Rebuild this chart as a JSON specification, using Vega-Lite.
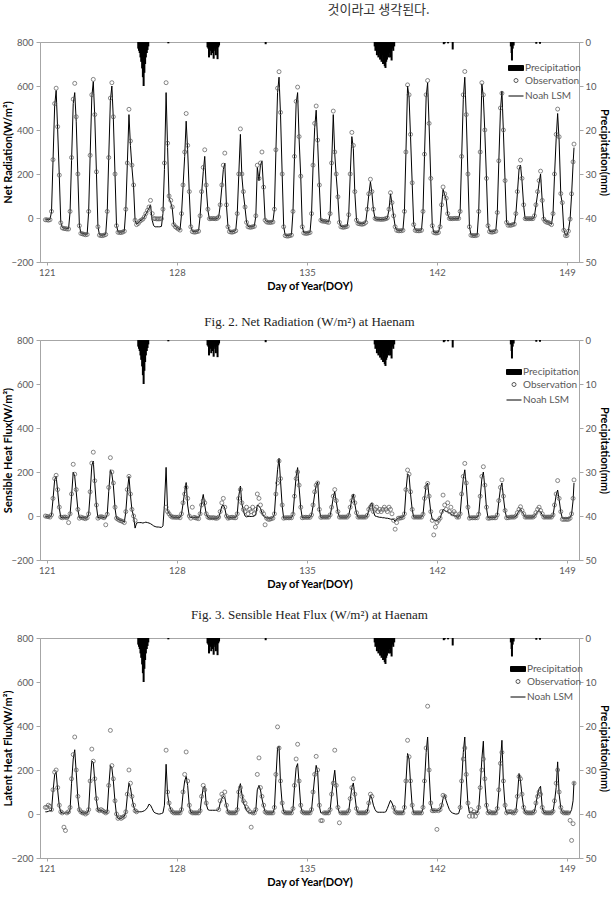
{
"$schema": "https://vega.github.io/schema/vega-lite/v6.json",
"background": "white",
"padding": {"left": 2, "top": 3, "right": 10, "bottom": 0},
"title": {"text": "것이라고 생각된다.", "font": "Noto Sans CJK KR", "fontSize": 13, "fontWeight": "normal", "color": "#333333", "anchor": "start", "dx": 325, "offset": 20},
"config": {
  "font": "Lato",
  "view": {"stroke": "#a6a6a6", "strokeWidth": 1},
  "axis": {"labelFont": "Lato", "labelFontSize": 9.5, "labelColor": "#595959", "titleFont": "Lato", "titleFontSize": 11, "titleFontWeight": "bold", "titleColor": "#000000", "domainColor": "#a6a6a6", "tickColor": "#a6a6a6", "grid": false},
  "legend": {"labelFont": "Lato", "labelFontSize": 10, "labelColor": "#595959"},
  "title": {"font": "Liberation Serif", "fontSize": 13, "fontWeight": "normal", "color": "#222222"}
},
"datasets": {
"rain": [
{"t":125.92,"p":1.5},{"t":125.96,"p":2},{"t":126.0,"p":2.5},{"t":126.04,"p":3.5},{"t":126.08,"p":4.5},{"t":126.13,"p":6},{"t":126.17,"p":8},{"t":126.21,"p":10},{"t":126.25,"p":7},{"t":126.29,"p":5},{"t":126.33,"p":3.5},{"t":126.38,"p":2.5},{"t":126.42,"p":1.8},{"t":126.46,"p":1},
{"t":127.54,"p":0.3},
{"t":129.65,"p":1.2},{"t":129.69,"p":1.5},{"t":129.73,"p":3.5},{"t":129.77,"p":1.5},{"t":129.81,"p":2},{"t":129.85,"p":3},{"t":129.9,"p":1.5},{"t":129.94,"p":2.5},{"t":129.98,"p":3.8},{"t":130.02,"p":1.5},{"t":130.06,"p":2},{"t":130.1,"p":3},{"t":130.15,"p":1.5},{"t":130.19,"p":3.9},{"t":130.23,"p":1.2},{"t":130.27,"p":0.8},
{"t":132.78,"p":0.5},
{"t":138.65,"p":1},{"t":138.69,"p":2},{"t":138.73,"p":1.5},{"t":138.77,"p":3},{"t":138.81,"p":2},{"t":138.85,"p":3.5},{"t":138.9,"p":2.5},{"t":138.94,"p":4},{"t":138.98,"p":3},{"t":139.02,"p":4.5},{"t":139.06,"p":3},{"t":139.1,"p":5},{"t":139.15,"p":4},{"t":139.19,"p":5.5},{"t":139.23,"p":5.9},{"t":139.27,"p":4.5},{"t":139.31,"p":4},{"t":139.35,"p":3},{"t":139.4,"p":3.5},{"t":139.44,"p":2.5},{"t":139.48,"p":3.5},{"t":139.52,"p":2},{"t":139.56,"p":4.2},{"t":139.6,"p":1.5},{"t":139.65,"p":2},{"t":139.7,"p":1},
{"t":142.37,"p":0.5},{"t":142.42,"p":0.3},{"t":142.6,"p":0.3},{"t":142.85,"p":1.7},
{"t":145.98,"p":1},{"t":146.02,"p":2.5},{"t":146.04,"p":4.2},{"t":146.08,"p":1.5},{"t":146.13,"p":0.8},
{"t":147.35,"p":0.4},{"t":147.55,"p":0.4}
],
"flux": [
{"t":120.92,"nr":-8,"nrm":-6,"sh":0,"shm":-2,"le":30,"lem":10},
{"t":121,"nr":-8,"nrm":-6,"sh":-2,"shm":-3,"le":30,"lem":10},
{"t":121.08,"nr":-10,"nrm":-8,"sh":-3,"shm":-4,"le":40,"lem":12},
{"t":121.17,"nr":-8,"nrm":-6,"sh":-5,"shm":-5,"le":35,"lem":15},
{"t":121.25,"nr":30,"nrm":28,"sh":5,"shm":3,"le":20,"lem":15},
{"t":121.33,"nr":265,"nrm":255,"sh":80,"shm":75,"le":110,"lem":100},
{"t":121.42,"nr":520,"nrm":510,"sh":170,"shm":165,"le":190,"lem":180},
{"t":121.5,"nr":590,"nrm":580,"sh":185,"shm":180,"le":200,"lem":190},
{"t":121.58,"nr":415,"nrm":405,"sh":120,"shm":115,"le":120,"lem":110},
{"t":121.67,"nr":195,"nrm":190,"sh":40,"shm":35,"le":40,"lem":35},
{"t":121.75,"nr":-22,"nrm":-20,"sh":-5,"shm":-6,"le":10,"lem":8},
{"t":121.83,"nr":-45,"nrm":-43,"sh":-8,"shm":-8,"le":5,"lem":5},
{"t":121.92,"nr":-48,"nrm":-46,"sh":-5,"shm":-6,"le":-60,"lem":3},
{"t":122,"nr":-48,"nrm":-46,"sh":-5,"shm":-6,"le":-75,"lem":5},
{"t":122.08,"nr":-50,"nrm":-48,"sh":-8,"shm":-8,"le":5,"lem":5},
{"t":122.17,"nr":-50,"nrm":-48,"sh":-30,"shm":-10,"le":10,"lem":5},
{"t":122.25,"nr":30,"nrm":28,"sh":10,"shm":8,"le":30,"lem":20},
{"t":122.33,"nr":275,"nrm":260,"sh":100,"shm":90,"le":160,"lem":140},
{"t":122.42,"nr":540,"nrm":520,"sh":235,"shm":200,"le":270,"lem":250},
{"t":122.5,"nr":612,"nrm":570,"sh":190,"shm":180,"le":350,"lem":292},
{"t":122.58,"nr":460,"nrm":440,"sh":120,"shm":110,"le":200,"lem":190},
{"t":122.67,"nr":200,"nrm":190,"sh":30,"shm":28,"le":80,"lem":70},
{"t":122.75,"nr":-35,"nrm":-33,"sh":-10,"shm":-8,"le":20,"lem":15},
{"t":122.83,"nr":-70,"nrm":-68,"sh":-5,"shm":-6,"le":10,"lem":8},
{"t":122.92,"nr":-72,"nrm":-70,"sh":-8,"shm":-8,"le":5,"lem":5},
{"t":123,"nr":-74,"nrm":-72,"sh":-10,"shm":-8,"le":5,"lem":5},
{"t":123.08,"nr":-76,"nrm":-74,"sh":-12,"shm":-10,"le":0,"lem":3},
{"t":123.17,"nr":-75,"nrm":-73,"sh":-8,"shm":-8,"le":5,"lem":5},
{"t":123.25,"nr":30,"nrm":28,"sh":10,"shm":8,"le":20,"lem":18},
{"t":123.33,"nr":285,"nrm":280,"sh":110,"shm":100,"le":150,"lem":140},
{"t":123.42,"nr":560,"nrm":550,"sh":240,"shm":230,"le":295,"lem":240},
{"t":123.5,"nr":630,"nrm":620,"sh":290,"shm":250,"le":240,"lem":235},
{"t":123.58,"nr":470,"nrm":460,"sh":160,"shm":150,"le":160,"lem":150},
{"t":123.67,"nr":210,"nrm":205,"sh":50,"shm":45,"le":70,"lem":60},
{"t":123.75,"nr":-40,"nrm":-38,"sh":-10,"shm":-8,"le":20,"lem":18},
{"t":123.83,"nr":-78,"nrm":-76,"sh":-5,"shm":-6,"le":15,"lem":15},
{"t":123.92,"nr":-80,"nrm":-78,"sh":-3,"shm":-4,"le":20,"lem":15},
{"t":124,"nr":-80,"nrm":-78,"sh":-5,"shm":-6,"le":15,"lem":15},
{"t":124.08,"nr":-78,"nrm":-76,"sh":-8,"shm":-8,"le":10,"lem":10},
{"t":124.17,"nr":-75,"nrm":-73,"sh":-40,"shm":-10,"le":5,"lem":5},
{"t":124.25,"nr":30,"nrm":28,"sh":8,"shm":6,"le":10,"lem":10},
{"t":124.33,"nr":275,"nrm":270,"sh":130,"shm":110,"le":130,"lem":120},
{"t":124.42,"nr":545,"nrm":535,"sh":265,"shm":210,"le":380,"lem":220},
{"t":124.5,"nr":615,"nrm":600,"sh":200,"shm":190,"le":220,"lem":210},
{"t":124.58,"nr":460,"nrm":450,"sh":150,"shm":140,"le":160,"lem":150},
{"t":124.67,"nr":200,"nrm":195,"sh":40,"shm":35,"le":60,"lem":55},
{"t":124.75,"nr":-35,"nrm":-33,"sh":-10,"shm":-12,"le":0,"lem":-5},
{"t":124.83,"nr":-65,"nrm":-63,"sh":-15,"shm":-14,"le":-20,"lem":-20},
{"t":124.92,"nr":-66,"nrm":-64,"sh":-20,"shm":-18,"le":-15,"lem":-20},
{"t":125,"nr":-66,"nrm":-64,"sh":-22,"shm":-20,"le":-20,"lem":-20},
{"t":125.08,"nr":-64,"nrm":-62,"sh":-25,"shm":-22,"le":-15,"lem":-15},
{"t":125.17,"nr":-60,"nrm":-58,"sh":-30,"shm":-28,"le":-10,"lem":-10},
{"t":125.25,"nr":40,"nrm":38,"sh":20,"shm":18,"le":10,"lem":8},
{"t":125.33,"nr":250,"nrm":240,"sh":120,"shm":110,"le":90,"lem":80},
{"t":125.42,"nr":494,"nrm":470,"sh":180,"shm":180,"le":200,"lem":140},
{"t":125.5,"nr":350,"nrm":330,"sh":100,"shm":95,"le":140,"lem":120},
{"t":125.58,"nr":240,"nrm":230,"sh":30,"shm":28,"le":80,"lem":75},
{"t":125.67,"nr":150,"nrm":140,"sh":0,"shm":-2,"le":40,"lem":35},
{"t":125.75,"nr":-10,"nrm":-12,"sh":-20,"shm":-55,"le":15,"lem":15},
{"t":125.83,"nr":-30,"nrm":-28,"sh":null,"shm":-32,"le":10,"lem":10},
{"t":125.92,"nr":-25,"nrm":-23,"sh":null,"shm":-30,"le":null,"lem":10},
{"t":126,"nr":-15,"nrm":-14,"sh":null,"shm":-30,"le":null,"lem":10},
{"t":126.08,"nr":-10,"nrm":-9,"sh":null,"shm":-30,"le":null,"lem":10},
{"t":126.17,"nr":-5,"nrm":-4,"sh":null,"shm":-32,"le":null,"lem":12},
{"t":126.25,"nr":5,"nrm":4,"sh":null,"shm":-30,"le":null,"lem":15},
{"t":126.33,"nr":20,"nrm":18,"sh":null,"shm":-28,"le":null,"lem":20},
{"t":126.42,"nr":35,"nrm":32,"sh":null,"shm":-30,"le":null,"lem":30},
{"t":126.5,"nr":50,"nrm":45,"sh":null,"shm":-32,"le":null,"lem":45},
{"t":126.58,"nr":80,"nrm":60,"sh":null,"shm":-35,"le":null,"lem":40},
{"t":126.67,"nr":20,"nrm":-10,"sh":null,"shm":-40,"le":null,"lem":25},
{"t":126.75,"nr":-3,"nrm":-35,"sh":null,"shm":-45,"le":null,"lem":10},
{"t":126.83,"nr":-3,"nrm":-40,"sh":null,"shm":-48,"le":null,"lem":5},
{"t":126.92,"nr":-4,"nrm":-40,"sh":null,"shm":-50,"le":null,"lem":2},
{"t":127,"nr":-4,"nrm":-40,"sh":null,"shm":-50,"le":null,"lem":0},
{"t":127.08,"nr":-4,"nrm":-40,"sh":null,"shm":-51,"le":null,"lem":0},
{"t":127.17,"nr":-3,"nrm":-38,"sh":null,"shm":-52,"le":null,"lem":2},
{"t":127.25,"nr":40,"nrm":20,"sh":null,"shm":-45,"le":null,"lem":5},
{"t":127.33,"nr":250,"nrm":220,"sh":null,"shm":50,"le":null,"lem":40},
{"t":127.42,"nr":615,"nrm":570,"sh":40,"shm":221,"le":290,"lem":226},
{"t":127.5,"nr":340,"nrm":320,"sh":20,"shm":25,"le":100,"lem":90},
{"t":127.58,"nr":100,"nrm":90,"sh":10,"shm":12,"le":50,"lem":45},
{"t":127.67,"nr":80,"nrm":70,"sh":0,"shm":2,"le":20,"lem":20},
{"t":127.75,"nr":50,"nrm":45,"sh":-5,"shm":-5,"le":10,"lem":8},
{"t":127.83,"nr":-30,"nrm":-28,"sh":-5,"shm":-6,"le":5,"lem":5},
{"t":127.92,"nr":-40,"nrm":-38,"sh":-6,"shm":-6,"le":5,"lem":5},
{"t":128,"nr":-45,"nrm":-43,"sh":-6,"shm":-6,"le":5,"lem":5},
{"t":128.08,"nr":-50,"nrm":-48,"sh":-5,"shm":-6,"le":5,"lem":5},
{"t":128.17,"nr":-55,"nrm":-53,"sh":-8,"shm":-6,"le":5,"lem":5},
{"t":128.25,"nr":20,"nrm":18,"sh":10,"shm":8,"le":20,"lem":18},
{"t":128.33,"nr":150,"nrm":140,"sh":60,"shm":55,"le":100,"lem":90},
{"t":128.42,"nr":300,"nrm":280,"sh":100,"shm":110,"le":180,"lem":150},
{"t":128.5,"nr":475,"nrm":440,"sh":130,"shm":152,"le":282,"lem":171},
{"t":128.58,"nr":330,"nrm":310,"sh":80,"shm":50,"le":150,"lem":130},
{"t":128.67,"nr":120,"nrm":110,"sh":0,"shm":-2,"le":40,"lem":35},
{"t":128.75,"nr":-40,"nrm":-38,"sh":-10,"shm":-8,"le":10,"lem":8},
{"t":128.83,"nr":-62,"nrm":-60,"sh":40,"shm":-6,"le":5,"lem":5},
{"t":128.92,"nr":-64,"nrm":-62,"sh":-6,"shm":-6,"le":5,"lem":5},
{"t":129,"nr":-64,"nrm":-62,"sh":-8,"shm":-6,"le":5,"lem":5},
{"t":129.08,"nr":-62,"nrm":-60,"sh":-10,"shm":-8,"le":5,"lem":5},
{"t":129.17,"nr":-60,"nrm":-58,"sh":-12,"shm":-8,"le":5,"lem":5},
{"t":129.25,"nr":10,"nrm":8,"sh":10,"shm":8,"le":15,"lem":12},
{"t":129.33,"nr":120,"nrm":110,"sh":50,"shm":60,"le":80,"lem":70},
{"t":129.42,"nr":230,"nrm":210,"sh":70,"shm":98,"le":130,"lem":120},
{"t":129.5,"nr":310,"nrm":280,"sh":60,"shm":50,"le":110,"lem":127},
{"t":129.58,"nr":150,"nrm":140,"sh":10,"shm":8,"le":50,"lem":45},
{"t":129.67,"nr":40,"nrm":35,"sh":-5,"shm":-6,"le":null,"lem":20},
{"t":129.75,"nr":-3,"nrm":-4,"sh":-8,"shm":-10,"le":null,"lem":17},
{"t":129.83,"nr":-3,"nrm":-4,"sh":-8,"shm":-10,"le":null,"lem":17},
{"t":129.92,"nr":-2,"nrm":-3,"sh":-8,"shm":-10,"le":null,"lem":17},
{"t":130,"nr":-3,"nrm":-4,"sh":-8,"shm":-10,"le":null,"lem":17},
{"t":130.08,"nr":-3,"nrm":-4,"sh":-10,"shm":-10,"le":null,"lem":17},
{"t":130.17,"nr":-2,"nrm":-3,"sh":-10,"shm":-10,"le":null,"lem":17},
{"t":130.25,"nr":5,"nrm":4,"sh":-5,"shm":-8,"le":20,"lem":20},
{"t":130.33,"nr":60,"nrm":55,"sh":20,"shm":15,"le":60,"lem":50},
{"t":130.42,"nr":150,"nrm":140,"sh":60,"shm":45,"le":90,"lem":70},
{"t":130.5,"nr":240,"nrm":220,"sh":80,"shm":50,"le":80,"lem":80},
{"t":130.58,"nr":295,"nrm":250,"sh":40,"shm":35,"le":100,"lem":75},
{"t":130.67,"nr":60,"nrm":55,"sh":0,"shm":-2,"le":40,"lem":35},
{"t":130.75,"nr":-40,"nrm":-38,"sh":-10,"shm":-10,"le":10,"lem":10},
{"t":130.83,"nr":-62,"nrm":-60,"sh":-8,"shm":-8,"le":5,"lem":5},
{"t":130.92,"nr":-64,"nrm":-62,"sh":-6,"shm":-6,"le":5,"lem":5},
{"t":131,"nr":-64,"nrm":-62,"sh":-6,"shm":-6,"le":5,"lem":5},
{"t":131.08,"nr":-62,"nrm":-60,"sh":-8,"shm":-6,"le":5,"lem":5},
{"t":131.17,"nr":-58,"nrm":-56,"sh":-8,"shm":-6,"le":5,"lem":5},
{"t":131.25,"nr":20,"nrm":18,"sh":10,"shm":8,"le":20,"lem":18},
{"t":131.33,"nr":200,"nrm":190,"sh":80,"shm":90,"le":100,"lem":110},
{"t":131.42,"nr":405,"nrm":380,"sh":120,"shm":136,"le":120,"lem":138},
{"t":131.5,"nr":200,"nrm":190,"sh":60,"shm":55,"le":80,"lem":90},
{"t":131.58,"nr":120,"nrm":110,"sh":30,"shm":25,"le":60,"lem":50},
{"t":131.67,"nr":50,"nrm":45,"sh":20,"shm":0,"le":50,"lem":35},
{"t":131.75,"nr":-20,"nrm":-18,"sh":40,"shm":-4,"le":30,"lem":15},
{"t":131.83,"nr":-40,"nrm":-38,"sh":10,"shm":-2,"le":20,"lem":10},
{"t":131.92,"nr":-42,"nrm":-40,"sh":30,"shm":-2,"le":10,"lem":5},
{"t":132,"nr":-42,"nrm":-40,"sh":20,"shm":-2,"le":-60,"lem":5},
{"t":132.08,"nr":-40,"nrm":-38,"sh":40,"shm":-2,"le":5,"lem":5},
{"t":132.17,"nr":-38,"nrm":-36,"sh":10,"shm":0,"le":5,"lem":5},
{"t":132.25,"nr":10,"nrm":8,"sh":30,"shm":10,"le":20,"lem":18},
{"t":132.33,"nr":240,"nrm":230,"sh":100,"shm":50,"le":180,"lem":110},
{"t":132.42,"nr":180,"nrm":170,"sh":80,"shm":45,"le":255,"lem":130},
{"t":132.5,"nr":250,"nrm":240,"sh":50,"shm":35,"le":120,"lem":110},
{"t":132.58,"nr":300,"nrm":260,"sh":20,"shm":15,"le":80,"lem":70},
{"t":132.67,"nr":140,"nrm":130,"sh":10,"shm":0,"le":40,"lem":35},
{"t":132.75,"nr":-10,"nrm":-9,"sh":-40,"shm":-8,"le":10,"lem":10},
{"t":132.83,"nr":-18,"nrm":-16,"sh":-10,"shm":-8,"le":5,"lem":5},
{"t":132.92,"nr":-20,"nrm":-18,"sh":-15,"shm":-10,"le":5,"lem":5},
{"t":133,"nr":-20,"nrm":-18,"sh":-15,"shm":-10,"le":5,"lem":5},
{"t":133.08,"nr":-20,"nrm":-18,"sh":-12,"shm":-10,"le":5,"lem":5},
{"t":133.17,"nr":-18,"nrm":-16,"sh":-10,"shm":-8,"le":5,"lem":5},
{"t":133.25,"nr":40,"nrm":38,"sh":10,"shm":8,"le":30,"lem":25},
{"t":133.33,"nr":310,"nrm":300,"sh":100,"shm":110,"le":180,"lem":160},
{"t":133.42,"nr":590,"nrm":570,"sh":150,"shm":210,"le":396,"lem":300},
{"t":133.5,"nr":665,"nrm":640,"sh":250,"shm":262,"le":300,"lem":308},
{"t":133.58,"nr":480,"nrm":470,"sh":170,"shm":160,"le":150,"lem":140},
{"t":133.67,"nr":200,"nrm":195,"sh":50,"shm":45,"le":50,"lem":45},
{"t":133.75,"nr":-40,"nrm":-38,"sh":-10,"shm":-10,"le":10,"lem":10},
{"t":133.83,"nr":-80,"nrm":-78,"sh":-8,"shm":-8,"le":5,"lem":5},
{"t":133.92,"nr":-82,"nrm":-80,"sh":-8,"shm":-8,"le":5,"lem":5},
{"t":134,"nr":-82,"nrm":-80,"sh":-8,"shm":-8,"le":5,"lem":5},
{"t":134.08,"nr":-80,"nrm":-78,"sh":-8,"shm":-8,"le":5,"lem":5},
{"t":134.17,"nr":-78,"nrm":-76,"sh":-8,"shm":-8,"le":5,"lem":5},
{"t":134.25,"nr":30,"nrm":28,"sh":8,"shm":6,"le":25,"lem":22},
{"t":134.33,"nr":280,"nrm":270,"sh":90,"shm":90,"le":130,"lem":120},
{"t":134.42,"nr":530,"nrm":520,"sh":170,"shm":180,"le":250,"lem":210},
{"t":134.5,"nr":595,"nrm":570,"sh":200,"shm":220,"le":317,"lem":229},
{"t":134.58,"nr":370,"nrm":360,"sh":140,"shm":130,"le":150,"lem":140},
{"t":134.67,"nr":190,"nrm":185,"sh":40,"shm":35,"le":40,"lem":35},
{"t":134.75,"nr":-40,"nrm":-38,"sh":-8,"shm":-8,"le":10,"lem":8},
{"t":134.83,"nr":-68,"nrm":-66,"sh":-6,"shm":-6,"le":5,"lem":5},
{"t":134.92,"nr":-70,"nrm":-68,"sh":-6,"shm":-6,"le":5,"lem":5},
{"t":135,"nr":-70,"nrm":-68,"sh":-6,"shm":-6,"le":5,"lem":5},
{"t":135.08,"nr":-68,"nrm":-66,"sh":-6,"shm":-6,"le":5,"lem":5},
{"t":135.17,"nr":-66,"nrm":-64,"sh":-6,"shm":-6,"le":5,"lem":5},
{"t":135.25,"nr":20,"nrm":18,"sh":5,"shm":4,"le":20,"lem":18},
{"t":135.33,"nr":240,"nrm":230,"sh":50,"shm":45,"le":100,"lem":90},
{"t":135.42,"nr":430,"nrm":410,"sh":110,"shm":100,"le":180,"lem":170},
{"t":135.5,"nr":509,"nrm":490,"sh":140,"shm":140,"le":262,"lem":221},
{"t":135.58,"nr":354,"nrm":340,"sh":150,"shm":155,"le":200,"lem":190},
{"t":135.67,"nr":150,"nrm":145,"sh":30,"shm":28,"le":40,"lem":35},
{"t":135.75,"nr":-10,"nrm":-9,"sh":-6,"shm":-6,"le":-30,"lem":5},
{"t":135.83,"nr":-14,"nrm":-13,"sh":-5,"shm":-5,"le":-30,"lem":5},
{"t":135.92,"nr":-15,"nrm":-14,"sh":-5,"shm":-5,"le":5,"lem":5},
{"t":136,"nr":-15,"nrm":-14,"sh":-5,"shm":-5,"le":5,"lem":5},
{"t":136.08,"nr":-18,"nrm":-16,"sh":-5,"shm":-5,"le":5,"lem":5},
{"t":136.17,"nr":-20,"nrm":-18,"sh":-5,"shm":-5,"le":5,"lem":5},
{"t":136.25,"nr":20,"nrm":18,"sh":5,"shm":3,"le":20,"lem":18},
{"t":136.33,"nr":250,"nrm":240,"sh":40,"shm":35,"le":90,"lem":85},
{"t":136.42,"nr":486,"nrm":470,"sh":90,"shm":85,"le":140,"lem":150},
{"t":136.5,"nr":300,"nrm":290,"sh":120,"shm":111,"le":290,"lem":199},
{"t":136.58,"nr":200,"nrm":190,"sh":70,"shm":65,"le":130,"lem":120},
{"t":136.67,"nr":96,"nrm":90,"sh":20,"shm":18,"le":30,"lem":28},
{"t":136.75,"nr":-20,"nrm":-18,"sh":-5,"shm":-5,"le":-40,"lem":5},
{"t":136.83,"nr":-40,"nrm":-38,"sh":-5,"shm":-5,"le":5,"lem":5},
{"t":136.92,"nr":-42,"nrm":-40,"sh":-5,"shm":-5,"le":5,"lem":5},
{"t":137,"nr":-42,"nrm":-40,"sh":-5,"shm":-5,"le":5,"lem":5},
{"t":137.08,"nr":-40,"nrm":-38,"sh":-5,"shm":-5,"le":5,"lem":5},
{"t":137.17,"nr":-38,"nrm":-36,"sh":-5,"shm":-5,"le":5,"lem":5},
{"t":137.25,"nr":15,"nrm":13,"sh":3,"shm":2,"le":15,"lem":12},
{"t":137.33,"nr":200,"nrm":190,"sh":40,"shm":35,"le":70,"lem":65},
{"t":137.42,"nr":389,"nrm":370,"sh":70,"shm":75,"le":120,"lem":120},
{"t":137.5,"nr":330,"nrm":315,"sh":90,"shm":100,"le":160,"lem":141},
{"t":137.58,"nr":120,"nrm":115,"sh":60,"shm":55,"le":90,"lem":85},
{"t":137.67,"nr":-10,"nrm":-9,"sh":15,"shm":12,"le":25,"lem":22},
{"t":137.75,"nr":-25,"nrm":-23,"sh":-5,"shm":-5,"le":5,"lem":5},
{"t":137.83,"nr":-26,"nrm":-24,"sh":-5,"shm":-5,"le":5,"lem":5},
{"t":137.92,"nr":-28,"nrm":-26,"sh":-5,"shm":-5,"le":5,"lem":5},
{"t":138,"nr":-28,"nrm":-26,"sh":-5,"shm":-5,"le":5,"lem":5},
{"t":138.08,"nr":-26,"nrm":-24,"sh":-5,"shm":-5,"le":5,"lem":5},
{"t":138.17,"nr":-20,"nrm":-18,"sh":-5,"shm":-5,"le":5,"lem":5},
{"t":138.25,"nr":40,"nrm":38,"sh":3,"shm":2,"le":12,"lem":10},
{"t":138.33,"nr":110,"nrm":105,"sh":30,"shm":25,"le":50,"lem":45},
{"t":138.42,"nr":176,"nrm":165,"sh":40,"shm":50,"le":90,"lem":85},
{"t":138.5,"nr":120,"nrm":115,"sh":50,"shm":60,"le":80,"lem":70},
{"t":138.58,"nr":40,"nrm":38,"sh":20,"shm":20,"le":null,"lem":40},
{"t":138.67,"nr":-2,"nrm":-3,"sh":30,"shm":0,"le":null,"lem":20},
{"t":138.75,"nr":-5,"nrm":-6,"sh":40,"shm":-2,"le":null,"lem":10},
{"t":138.83,"nr":-5,"nrm":-6,"sh":20,"shm":-4,"le":null,"lem":8},
{"t":138.92,"nr":-6,"nrm":-7,"sh":30,"shm":-6,"le":null,"lem":8},
{"t":139,"nr":-6,"nrm":-7,"sh":20,"shm":-6,"le":null,"lem":8},
{"t":139.08,"nr":-6,"nrm":-7,"sh":30,"shm":-8,"le":null,"lem":8},
{"t":139.17,"nr":-5,"nrm":-6,"sh":40,"shm":-8,"le":null,"lem":8},
{"t":139.25,"nr":-3,"nrm":-4,"sh":30,"shm":-10,"le":null,"lem":10},
{"t":139.33,"nr":0,"nrm":-1,"sh":20,"shm":-10,"le":null,"lem":25},
{"t":139.42,"nr":40,"nrm":38,"sh":40,"shm":-12,"le":null,"lem":45},
{"t":139.5,"nr":115,"nrm":110,"sh":30,"shm":-14,"le":null,"lem":62},
{"t":139.58,"nr":70,"nrm":65,"sh":10,"shm":-15,"le":null,"lem":50},
{"t":139.67,"nr":10,"nrm":8,"sh":-20,"shm":-15,"le":30,"lem":30},
{"t":139.75,"nr":-40,"nrm":-38,"sh":-60,"shm":-25,"le":10,"lem":10},
{"t":139.83,"nr":-56,"nrm":-54,"sh":-30,"shm":-15,"le":5,"lem":5},
{"t":139.92,"nr":-58,"nrm":-56,"sh":-10,"shm":-10,"le":5,"lem":5},
{"t":140,"nr":-58,"nrm":-56,"sh":-10,"shm":-8,"le":5,"lem":5},
{"t":140.08,"nr":-58,"nrm":-56,"sh":-8,"shm":-6,"le":5,"lem":5},
{"t":140.17,"nr":-56,"nrm":-54,"sh":-6,"shm":-5,"le":5,"lem":5},
{"t":140.25,"nr":30,"nrm":28,"sh":10,"shm":8,"le":30,"lem":25},
{"t":140.33,"nr":300,"nrm":290,"sh":120,"shm":110,"le":150,"lem":140},
{"t":140.42,"nr":605,"nrm":600,"sh":209,"shm":190,"le":335,"lem":275},
{"t":140.5,"nr":560,"nrm":550,"sh":190,"shm":185,"le":260,"lem":250},
{"t":140.58,"nr":380,"nrm":370,"sh":110,"shm":100,"le":150,"lem":140},
{"t":140.67,"nr":160,"nrm":155,"sh":30,"shm":28,"le":40,"lem":35},
{"t":140.75,"nr":-30,"nrm":-28,"sh":-5,"shm":-5,"le":5,"lem":5},
{"t":140.83,"nr":-56,"nrm":-54,"sh":-5,"shm":-5,"le":5,"lem":5},
{"t":140.92,"nr":-58,"nrm":-56,"sh":-5,"shm":-5,"le":5,"lem":5},
{"t":141,"nr":-58,"nrm":-56,"sh":-5,"shm":-5,"le":5,"lem":5},
{"t":141.08,"nr":-58,"nrm":-56,"sh":-5,"shm":-5,"le":5,"lem":5},
{"t":141.17,"nr":-56,"nrm":-54,"sh":-5,"shm":-5,"le":5,"lem":5},
{"t":141.25,"nr":30,"nrm":28,"sh":8,"shm":6,"le":30,"lem":25},
{"t":141.33,"nr":290,"nrm":280,"sh":80,"shm":75,"le":150,"lem":140},
{"t":141.42,"nr":560,"nrm":550,"sh":130,"shm":140,"le":300,"lem":280},
{"t":141.5,"nr":625,"nrm":615,"sh":148,"shm":150,"le":490,"lem":350},
{"t":141.58,"nr":430,"nrm":420,"sh":90,"shm":85,"le":200,"lem":190},
{"t":141.67,"nr":180,"nrm":175,"sh":20,"shm":18,"le":50,"lem":45},
{"t":141.75,"nr":-35,"nrm":-33,"sh":-20,"shm":-15,"le":15,"lem":15},
{"t":141.83,"nr":-66,"nrm":-64,"sh":-86,"shm":-18,"le":15,"lem":15},
{"t":141.92,"nr":-68,"nrm":-66,"sh":-50,"shm":-20,"le":15,"lem":15},
{"t":142,"nr":-68,"nrm":-66,"sh":-30,"shm":-20,"le":-70,"lem":15},
{"t":142.08,"nr":-66,"nrm":-64,"sh":-20,"shm":-18,"le":15,"lem":15},
{"t":142.17,"nr":-40,"nrm":-38,"sh":-10,"shm":-10,"le":20,"lem":20},
{"t":142.25,"nr":60,"nrm":55,"sh":20,"shm":10,"le":40,"lem":35},
{"t":142.33,"nr":141,"nrm":130,"sh":95,"shm":30,"le":85,"lem":70},
{"t":142.42,"nr":110,"nrm":105,"sh":50,"shm":25,"le":80,"lem":85},
{"t":142.5,"nr":90,"nrm":85,"sh":30,"shm":20,"le":null,"lem":60},
{"t":142.58,"nr":20,"nrm":18,"sh":60,"shm":20,"le":null,"lem":40},
{"t":142.67,"nr":-2,"nrm":-3,"sh":20,"shm":15,"le":null,"lem":20},
{"t":142.75,"nr":-3,"nrm":-4,"sh":40,"shm":10,"le":null,"lem":10},
{"t":142.83,"nr":-3,"nrm":-4,"sh":10,"shm":5,"le":null,"lem":5},
{"t":142.92,"nr":-2,"nrm":-3,"sh":20,"shm":0,"le":null,"lem":2},
{"t":143,"nr":-2,"nrm":-3,"sh":10,"shm":0,"le":null,"lem":0},
{"t":143.08,"nr":-2,"nrm":-3,"sh":-5,"shm":-5,"le":null,"lem":0},
{"t":143.17,"nr":-2,"nrm":-3,"sh":-5,"shm":-5,"le":null,"lem":2},
{"t":143.25,"nr":30,"nrm":28,"sh":10,"shm":8,"le":30,"lem":25},
{"t":143.33,"nr":280,"nrm":270,"sh":100,"shm":90,"le":150,"lem":140},
{"t":143.42,"nr":560,"nrm":540,"sh":180,"shm":170,"le":250,"lem":280},
{"t":143.5,"nr":666,"nrm":640,"sh":239,"shm":210,"le":300,"lem":350},
{"t":143.58,"nr":470,"nrm":460,"sh":150,"shm":140,"le":180,"lem":170},
{"t":143.67,"nr":200,"nrm":195,"sh":40,"shm":35,"le":50,"lem":45},
{"t":143.75,"nr":-40,"nrm":-38,"sh":-10,"shm":-8,"le":-10,"lem":5},
{"t":143.83,"nr":-78,"nrm":-76,"sh":-8,"shm":-6,"le":20,"lem":5},
{"t":143.92,"nr":-80,"nrm":-78,"sh":-8,"shm":-6,"le":-10,"lem":5},
{"t":144,"nr":-80,"nrm":-78,"sh":-8,"shm":-6,"le":10,"lem":5},
{"t":144.08,"nr":-80,"nrm":-78,"sh":-8,"shm":-6,"le":-10,"lem":5},
{"t":144.17,"nr":-78,"nrm":-76,"sh":-8,"shm":-6,"le":5,"lem":5},
{"t":144.25,"nr":30,"nrm":28,"sh":8,"shm":6,"le":30,"lem":25},
{"t":144.33,"nr":300,"nrm":290,"sh":90,"shm":85,"le":120,"lem":120},
{"t":144.42,"nr":615,"nrm":610,"sh":180,"shm":170,"le":200,"lem":250},
{"t":144.5,"nr":560,"nrm":550,"sh":224,"shm":200,"le":250,"lem":331},
{"t":144.58,"nr":400,"nrm":390,"sh":140,"shm":130,"le":160,"lem":150},
{"t":144.67,"nr":180,"nrm":175,"sh":40,"shm":35,"le":40,"lem":35},
{"t":144.75,"nr":-35,"nrm":-33,"sh":-10,"shm":-8,"le":5,"lem":5},
{"t":144.83,"nr":-62,"nrm":-60,"sh":-10,"shm":-8,"le":10,"lem":5},
{"t":144.92,"nr":-64,"nrm":-62,"sh":-8,"shm":-6,"le":5,"lem":5},
{"t":145,"nr":-64,"nrm":-62,"sh":-8,"shm":-6,"le":5,"lem":5},
{"t":145.08,"nr":-62,"nrm":-60,"sh":-8,"shm":-6,"le":5,"lem":5},
{"t":145.17,"nr":-60,"nrm":-58,"sh":-8,"shm":-6,"le":5,"lem":5},
{"t":145.25,"nr":25,"nrm":23,"sh":5,"shm":4,"le":25,"lem":22},
{"t":145.33,"nr":260,"nrm":250,"sh":70,"shm":65,"le":110,"lem":100},
{"t":145.42,"nr":500,"nrm":490,"sh":130,"shm":125,"le":230,"lem":240},
{"t":145.5,"nr":567,"nrm":577,"sh":164,"shm":150,"le":280,"lem":335},
{"t":145.58,"nr":400,"nrm":390,"sh":90,"shm":85,"le":150,"lem":140},
{"t":145.67,"nr":170,"nrm":165,"sh":25,"shm":22,"le":40,"lem":35},
{"t":145.75,"nr":-20,"nrm":-18,"sh":-8,"shm":-6,"le":5,"lem":5},
{"t":145.83,"nr":-33,"nrm":-31,"sh":-8,"shm":-6,"le":10,"lem":5},
{"t":145.92,"nr":-33,"nrm":-31,"sh":-6,"shm":-5,"le":10,"lem":5},
{"t":146,"nr":-33,"nrm":-31,"sh":-5,"shm":-5,"le":10,"lem":5},
{"t":146.08,"nr":-30,"nrm":-28,"sh":-5,"shm":-5,"le":5,"lem":5},
{"t":146.17,"nr":-28,"nrm":-26,"sh":-5,"shm":-5,"le":5,"lem":5},
{"t":146.25,"nr":20,"nrm":18,"sh":0,"shm":-2,"le":15,"lem":12},
{"t":146.33,"nr":120,"nrm":110,"sh":15,"shm":10,"le":80,"lem":75},
{"t":146.42,"nr":230,"nrm":220,"sh":30,"shm":25,"le":170,"lem":184},
{"t":146.5,"nr":263,"nrm":240,"sh":42,"shm":30,"le":160,"lem":150},
{"t":146.58,"nr":180,"nrm":170,"sh":25,"shm":20,"le":90,"lem":85},
{"t":146.67,"nr":60,"nrm":55,"sh":10,"shm":8,"le":30,"lem":28},
{"t":146.75,"nr":-3,"nrm":-4,"sh":-5,"shm":-5,"le":10,"lem":8},
{"t":146.83,"nr":-3,"nrm":-4,"sh":-5,"shm":-5,"le":5,"lem":5},
{"t":146.92,"nr":-3,"nrm":-4,"sh":-5,"shm":-5,"le":5,"lem":5},
{"t":147,"nr":-3,"nrm":-4,"sh":-5,"shm":-5,"le":5,"lem":5},
{"t":147.08,"nr":-3,"nrm":-4,"sh":-5,"shm":-5,"le":5,"lem":5},
{"t":147.17,"nr":-3,"nrm":-4,"sh":-5,"shm":-5,"le":5,"lem":5},
{"t":147.25,"nr":10,"nrm":8,"sh":0,"shm":-2,"le":12,"lem":10},
{"t":147.33,"nr":60,"nrm":55,"sh":15,"shm":10,"le":50,"lem":45},
{"t":147.42,"nr":120,"nrm":110,"sh":30,"shm":20,"le":80,"lem":90},
{"t":147.5,"nr":170,"nrm":160,"sh":40,"shm":25,"le":100,"lem":115},
{"t":147.58,"nr":213,"nrm":200,"sh":25,"shm":18,"le":90,"lem":126},
{"t":147.67,"nr":80,"nrm":75,"sh":10,"shm":6,"le":30,"lem":28},
{"t":147.75,"nr":-5,"nrm":-6,"sh":-5,"shm":-5,"le":10,"lem":8},
{"t":147.83,"nr":-15,"nrm":-14,"sh":-5,"shm":-5,"le":5,"lem":5},
{"t":147.92,"nr":-20,"nrm":-18,"sh":-5,"shm":-5,"le":5,"lem":5},
{"t":148,"nr":-20,"nrm":-18,"sh":-5,"shm":-5,"le":5,"lem":5},
{"t":148.08,"nr":-25,"nrm":-23,"sh":-5,"shm":-5,"le":5,"lem":5},
{"t":148.17,"nr":-30,"nrm":-28,"sh":-5,"shm":-5,"le":5,"lem":5},
{"t":148.25,"nr":20,"nrm":18,"sh":5,"shm":3,"le":12,"lem":10},
{"t":148.33,"nr":200,"nrm":190,"sh":50,"shm":45,"le":60,"lem":55},
{"t":148.42,"nr":380,"nrm":360,"sh":100,"shm":95,"le":140,"lem":120},
{"t":148.5,"nr":495,"nrm":475,"sh":161,"shm":118,"le":200,"lem":237},
{"t":148.58,"nr":369,"nrm":350,"sh":80,"shm":75,"le":100,"lem":90},
{"t":148.67,"nr":111,"nrm":105,"sh":20,"shm":18,"le":30,"lem":28},
{"t":148.75,"nr":70,"nrm":65,"sh":-15,"shm":-10,"le":10,"lem":8},
{"t":148.83,"nr":-56,"nrm":-54,"sh":-15,"shm":-10,"le":5,"lem":5},
{"t":148.92,"nr":-80,"nrm":-78,"sh":-15,"shm":-10,"le":5,"lem":5},
{"t":149,"nr":-80,"nrm":-78,"sh":-15,"shm":-10,"le":5,"lem":5},
{"t":149.08,"nr":-60,"nrm":-58,"sh":-15,"shm":-10,"le":5,"lem":5},
{"t":149.17,"nr":-5,"nrm":-5,"sh":-10,"shm":-8,"le":-29,"lem":5},
{"t":149.25,"nr":110,"nrm":105,"sh":10,"shm":8,"le":-120,"lem":20},
{"t":149.33,"nr":255,"nrm":245,"sh":80,"shm":70,"le":-44,"lem":60},
{"t":149.38,"nr":336,"nrm":320,"sh":164,"shm":150,"le":140,"lem":146}
]
},
"spacing": 78,
"bounds": "flush",
"resolve": {"scale": {"shape": "independent", "fill": "independent", "stroke": "independent", "size": "independent"}, "legend": {"shape": "independent", "fill": "independent", "stroke": "independent", "size": "independent"}},
"vconcat": [
{
  "width": 539, "height": 220,
  "title": {"text": "Fig. 2. Net Radiation (W/m²) at Haenam", "orient": "bottom", "offset": 24, "frame": "group", "anchor": "middle"},
  "encoding": {"x": {"field": "t", "type": "quantitative", "scale": {"domain": [120.9, 149.38], "nice": false, "zero": false}, "axis": {"values": [121,128,135,142,149], "format": "d", "title": "Day of Year(DOY)", "tickSize": 3, "labelPadding": 2, "titlePadding": 4}}},
  "layer": [
    {"data": {"name": "rain"}, "mark": {"type": "bar", "color": "#000000", "size": 2, "orient": "vertical"},
     "encoding": {"y": {"field": "p", "type": "quantitative", "scale": {"domain": [0, 50], "reverse": true, "nice": false}, "axis": {"orient": "right", "title": "Precipitation(mm)", "values": [0,10,20,30,40,50], "tickSize": 4, "labelPadding": 2, "titlePadding": 2}}}},
    {"data": {"name": "flux"}, "layer": [
      {"mark": {"type": "line", "color": "#000000", "strokeWidth": 1},
       "encoding": {"y": {"field": "nrm", "type": "quantitative", "scale": {"domain": [-200, 800], "nice": false}, "axis": {"orient": "left", "title": "Net Radiation(W/m²)", "values": [-200,0,200,400,600,800], "tickSize": 4, "labelPadding": 3, "titlePadding": -3}}}},
      {"mark": {"type": "point", "strokeWidth": 0.7, "opacity": 1},
       "encoding": {"y": {"field": "nr", "type": "quantitative", "scale": {"domain": [-200, 800], "nice": false}, "axis": {"orient": "left", "title": "Net Radiation(W/m²)", "values": [-200,0,200,400,600,800], "tickSize": 4, "labelPadding": 3, "titlePadding": -3}},
         "shape": {"datum": "Observation", "type": "nominal", "scale": {"domain": ["Precipitation","Observation","Noah LSM"], "range": ["M-1,-0.33H1V0.33H-1Z","circle","stroke"]},
           "legend": {"title": null, "orient": "none", "legendX": 468, "legendY": 18, "padding": 0, "rowPadding": 2.5, "labelOffset": 1, "symbolStrokeWidth": 1}},
         "fill": {"datum": "Observation", "type": "nominal", "scale": {"domain": ["Precipitation","Observation","Noah LSM"], "range": ["#000000","transparent","transparent"]},
           "legend": {"title": null, "orient": "none", "legendX": 468, "legendY": 18, "padding": 0, "rowPadding": 2.5, "labelOffset": 1, "symbolStrokeWidth": 1}},
         "stroke": {"datum": "Observation", "type": "nominal", "scale": {"domain": ["Precipitation","Observation","Noah LSM"], "range": ["#000000","#555555","#000000"]},
           "legend": {"title": null, "orient": "none", "legendX": 468, "legendY": 18, "padding": 0, "rowPadding": 2.5, "labelOffset": 1, "symbolStrokeWidth": 1}},
         "size": {"datum": "Observation", "type": "nominal", "scale": {"type": "ordinal", "domain": ["Precipitation","Observation","Noah LSM"], "range": [225, 16, 225]},
           "legend": {"title": null, "orient": "none", "legendX": 468, "legendY": 18, "padding": 0, "rowPadding": 2.5, "labelOffset": 1, "symbolStrokeWidth": 1}}}}
    ]}
  ],
  "resolve": {"scale": {"y": "independent"}}
},
{
  "width": 539, "height": 220,
  "title": {"text": "Fig. 3. Sensible Heat Flux (W/m²) at Haenam", "orient": "bottom", "offset": 19, "frame": "group", "anchor": "middle"},
  "encoding": {"x": {"field": "t", "type": "quantitative", "scale": {"domain": [120.9, 149.38], "nice": false, "zero": false}, "axis": {"values": [121,128,135,142,149], "format": "d", "title": "Day of Year(DOY)", "tickSize": 3, "labelPadding": 2, "titlePadding": 4}}},
  "layer": [
    {"data": {"name": "rain"}, "mark": {"type": "bar", "color": "#000000", "size": 2, "orient": "vertical"},
     "encoding": {"y": {"field": "p", "type": "quantitative", "scale": {"domain": [0, 50], "reverse": true, "nice": false}, "axis": {"orient": "right", "title": "Precipitation(mm)", "values": [0,10,20,30,40,50], "tickSize": 4, "labelPadding": 2, "titlePadding": 2}}}},
    {"data": {"name": "flux"}, "layer": [
      {"mark": {"type": "line", "color": "#000000", "strokeWidth": 1},
       "encoding": {"y": {"field": "shm", "type": "quantitative", "scale": {"domain": [-200, 800], "nice": false}, "axis": {"orient": "left", "title": "Sensible Heat Flux(W/m²)", "values": [-200,0,200,400,600,800], "tickSize": 4, "labelPadding": 3, "titlePadding": -3}}}},
      {"mark": {"type": "point", "strokeWidth": 0.7, "opacity": 1},
       "encoding": {"y": {"field": "sh", "type": "quantitative", "scale": {"domain": [-200, 800], "nice": false}, "axis": {"orient": "left", "title": "Sensible Heat Flux(W/m²)", "values": [-200,0,200,400,600,800], "tickSize": 4, "labelPadding": 3, "titlePadding": -3}},
         "shape": {"datum": "Observation", "type": "nominal", "scale": {"domain": ["Precipitation","Observation","Noah LSM"], "range": ["M-1,-0.33H1V0.33H-1Z","circle","stroke"]},
           "legend": {"title": null, "orient": "none", "legendX": 466, "legendY": 24, "padding": 0, "rowPadding": 2.5, "labelOffset": 1, "symbolStrokeWidth": 1}},
         "fill": {"datum": "Observation", "type": "nominal", "scale": {"domain": ["Precipitation","Observation","Noah LSM"], "range": ["#000000","transparent","transparent"]},
           "legend": {"title": null, "orient": "none", "legendX": 466, "legendY": 24, "padding": 0, "rowPadding": 2.5, "labelOffset": 1, "symbolStrokeWidth": 1}},
         "stroke": {"datum": "Observation", "type": "nominal", "scale": {"domain": ["Precipitation","Observation","Noah LSM"], "range": ["#000000","#555555","#000000"]},
           "legend": {"title": null, "orient": "none", "legendX": 466, "legendY": 24, "padding": 0, "rowPadding": 2.5, "labelOffset": 1, "symbolStrokeWidth": 1}},
         "size": {"datum": "Observation", "type": "nominal", "scale": {"type": "ordinal", "domain": ["Precipitation","Observation","Noah LSM"], "range": [225, 16, 225]},
           "legend": {"title": null, "orient": "none", "legendX": 466, "legendY": 24, "padding": 0, "rowPadding": 2.5, "labelOffset": 1, "symbolStrokeWidth": 1}}}}
    ]}
  ],
  "resolve": {"scale": {"y": "independent"}}
},
{
  "width": 539, "height": 220,
  "encoding": {"x": {"field": "t", "type": "quantitative", "scale": {"domain": [120.9, 149.38], "nice": false, "zero": false}, "axis": {"values": [121,128,135,142,149], "format": "d", "title": "Day of Year(DOY)", "tickSize": 3, "labelPadding": 2, "titlePadding": 4}}},
  "layer": [
    {"data": {"name": "rain"}, "mark": {"type": "bar", "color": "#000000", "size": 2, "orient": "vertical"},
     "encoding": {"y": {"field": "p", "type": "quantitative", "scale": {"domain": [0, 50], "reverse": true, "nice": false}, "axis": {"orient": "right", "title": "Precipitation(mm)", "values": [0,10,20,30,40,50], "tickSize": 4, "labelPadding": 2, "titlePadding": 2}}}},
    {"data": {"name": "flux"}, "layer": [
      {"mark": {"type": "line", "color": "#000000", "strokeWidth": 1},
       "encoding": {"y": {"field": "lem", "type": "quantitative", "scale": {"domain": [-200, 800], "nice": false}, "axis": {"orient": "left", "title": "Latent Heat Flux(W/m²)", "values": [-200,0,200,400,600,800], "tickSize": 4, "labelPadding": 3, "titlePadding": -3}}}},
      {"mark": {"type": "point", "strokeWidth": 0.7, "opacity": 1},
       "encoding": {"y": {"field": "le", "type": "quantitative", "scale": {"domain": [-200, 800], "nice": false}, "axis": {"orient": "left", "title": "Latent Heat Flux(W/m²)", "values": [-200,0,200,400,600,800], "tickSize": 4, "labelPadding": 3, "titlePadding": -3}},
         "shape": {"datum": "Observation", "type": "nominal", "scale": {"domain": ["Precipitation","Observation","Noah LSM"], "range": ["M-1,-0.33H1V0.33H-1Z","circle","stroke"]},
           "legend": {"title": null, "orient": "none", "legendX": 470, "legendY": 23, "padding": 0, "rowPadding": 2.5, "labelOffset": 1, "symbolStrokeWidth": 1}},
         "fill": {"datum": "Observation", "type": "nominal", "scale": {"domain": ["Precipitation","Observation","Noah LSM"], "range": ["#000000","transparent","transparent"]},
           "legend": {"title": null, "orient": "none", "legendX": 470, "legendY": 23, "padding": 0, "rowPadding": 2.5, "labelOffset": 1, "symbolStrokeWidth": 1}},
         "stroke": {"datum": "Observation", "type": "nominal", "scale": {"domain": ["Precipitation","Observation","Noah LSM"], "range": ["#000000","#555555","#000000"]},
           "legend": {"title": null, "orient": "none", "legendX": 470, "legendY": 23, "padding": 0, "rowPadding": 2.5, "labelOffset": 1, "symbolStrokeWidth": 1}},
         "size": {"datum": "Observation", "type": "nominal", "scale": {"type": "ordinal", "domain": ["Precipitation","Observation","Noah LSM"], "range": [225, 16, 225]},
           "legend": {"title": null, "orient": "none", "legendX": 470, "legendY": 23, "padding": 0, "rowPadding": 2.5, "labelOffset": 1, "symbolStrokeWidth": 1}}}}
    ]}
  ],
  "resolve": {"scale": {"y": "independent"}}
}
]
}
